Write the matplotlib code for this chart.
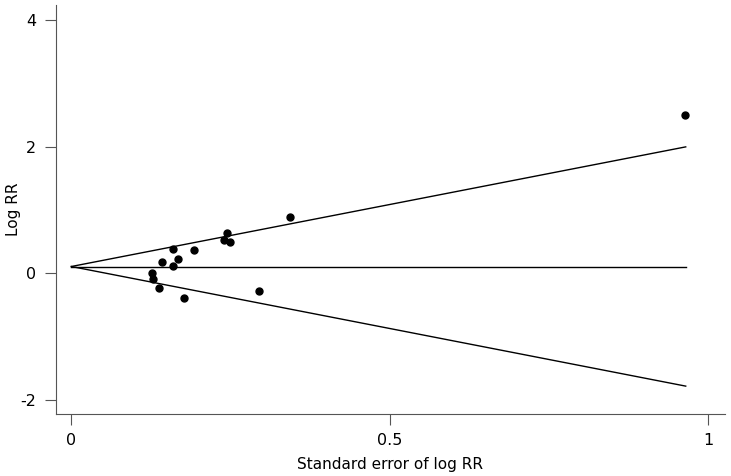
import matplotlib.pyplot as plt

plt.rcParams["axes.unicode_minus"] = False

# funnel plot data
se_log_rr = [0.964, 0.344, 0.245, 0.240, 0.249, 0.160, 0.193, 0.142,
             0.168, 0.160, 0.126, 0.129, 0.137, 0.177, 0.295]
log_rr = [2.50, 0.89, 0.645, 0.524, 0.493, 0.382, 0.371, 0.182,
          0.234, 0.123, 0.013, -0.087, -0.229, -0.392, -0.281]

# pooled estimate and pseudo 95% limits
limit_se = [0.0, 0.965]
pooled = [0.11, 0.11]
upper = [0.11, 2.0]
lower = [0.11, -1.78]

x_ticks = [0, 0.5, 1]
x_tick_labels = ["0", "0.5", "1"]
y_ticks = [-2, 0, 2, 4]

fig = plt.figure(figsize=(7.31, 4.76), dpi=100)
ax = fig.add_axes([0.0762, 0.1303, 0.9156, 0.859])

ax.plot(limit_se, upper, color="black", lw=1.0)
ax.plot(limit_se, lower, color="black", lw=1.0)
ax.plot(limit_se, pooled, color="black", lw=1.0)
ax.plot(se_log_rr, log_rr, "o", color="black", markersize=5)

ax.set_xlim(-0.0246, 1.0267)
ax.set_ylim(-2.22, 4.24)
ax.set_xticks(x_ticks)
ax.set_xticklabels(x_tick_labels)
ax.set_yticks(y_ticks)

for side in ["top", "right"]:
    ax.spines[side].set_visible(False)
for side in ["left", "bottom"]:
    ax.spines[side].set_color("#555555")
    ax.spines[side].set_linewidth(0.8)

ax.tick_params(direction="out", length=8, width=0.8, color="#555555",
               labelsize=11.5, pad=6)
ax.set_xlabel("Standard error of log RR", fontsize=11, labelpad=6)
ax.set_ylabel("Log RR", fontsize=11, va="center")
ax.yaxis.set_label_coords(-0.063, 0.5)

fig.savefig("out.png", dpi=100)
